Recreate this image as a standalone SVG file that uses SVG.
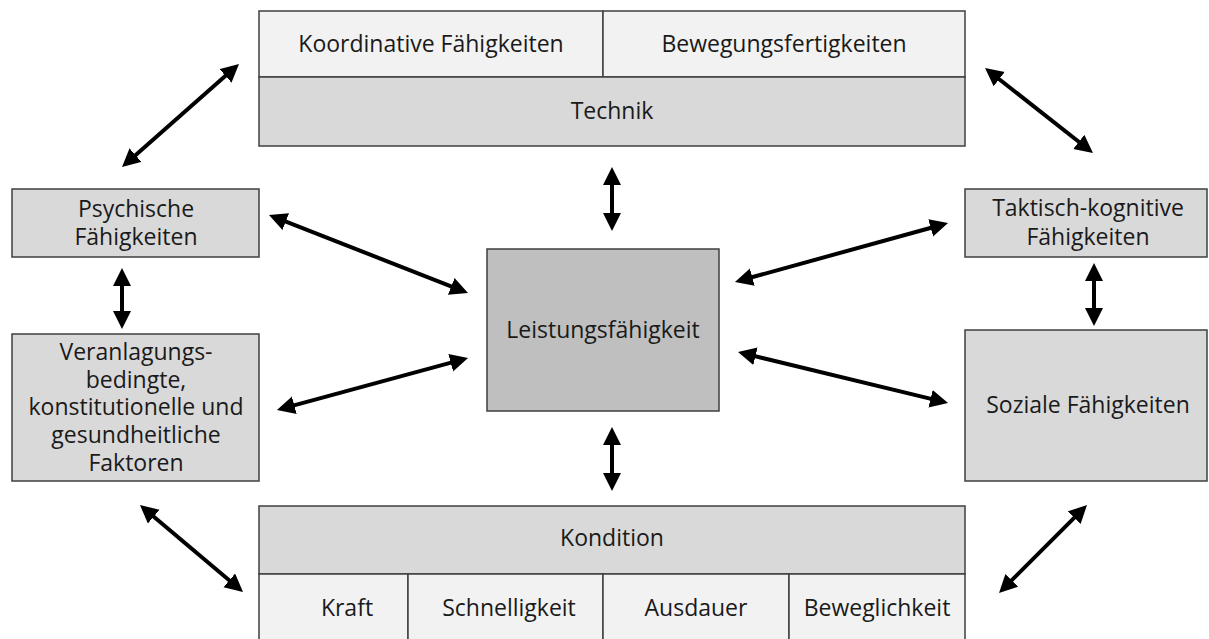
<svg xmlns="http://www.w3.org/2000/svg" width="1209" height="639" viewBox="0 0 1209 639">
  <style>
    .box { stroke: #3f3f3f; stroke-width: 1.5; }
    .light { fill: #f2f2f2; }
    .mid { fill: #d9d9d9; }
    .dark { fill: #bfbfbf; }
    text { font-family: "Open Sans", "Liberation Sans", sans-serif; font-size: 23px; fill: #1a1a1a; text-anchor: middle; }
    .arrow { stroke: #000; stroke-width: 4; fill: none; marker-start: url(#head); marker-end: url(#head); }
  </style>
  <defs>
    <marker id="head" markerUnits="userSpaceOnUse" markerWidth="20" markerHeight="20" refX="8" refY="9" orient="auto-start-reverse">
      <path d="M0,0 L18,9 L0,18 z" fill="#000"/>
    </marker>
  </defs>
  <rect width="1209" height="639" fill="#fff"/>

  <!-- Technik block with its two sub-fields -->
  <g id="technik">
    <rect class="box light" x="259" y="11" width="344" height="66"/>
    <rect class="box light" x="603" y="11" width="362" height="66"/>
    <rect class="box mid" x="259" y="77" width="706" height="69"/>
    <text x="431" y="52">Koordinative Fähigkeiten</text>
    <text x="784" y="52">Bewegungsfertigkeiten</text>
    <text x="612" y="119">Technik</text>
  </g>

  <g id="psychische">
    <rect class="box mid" x="12" y="189" width="247" height="68"/>
    <text x="136" y="217">Psychische</text>
    <text x="136" y="245">Fähigkeiten</text>
  </g>

  <g id="veranlagung">
    <rect class="box mid" x="12" y="334" width="247" height="147"/>
    <text x="136" y="360">Veranlagungs-</text>
    <text x="136" y="388">bedingte,</text>
    <text x="136" y="415">konstitutionelle und</text>
    <text x="136" y="443">gesundheitliche</text>
    <text x="136" y="471">Faktoren</text>
  </g>

  <g id="leistung">
    <rect class="box dark" x="487" y="249" width="232" height="162"/>
    <text x="603" y="338">Leistungsfähigkeit</text>
  </g>

  <g id="taktisch">
    <rect class="box mid" x="965" y="189" width="242" height="68"/>
    <text x="1088" y="216">Taktisch-kognitive</text>
    <text x="1088" y="245">Fähigkeiten</text>
  </g>

  <g id="sozial">
    <rect class="box mid" x="965" y="330" width="242" height="151"/>
    <text x="1088" y="413">Soziale Fähigkeiten</text>
  </g>

  <!-- Kondition block with its four sub-fields -->
  <g id="kondition">
    <rect class="box mid" x="259" y="506" width="706" height="68"/>
    <rect class="box light" x="259" y="574" width="149" height="70"/>
    <rect class="box light" x="408" y="574" width="195" height="70"/>
    <rect class="box light" x="603" y="574" width="186" height="70"/>
    <rect class="box light" x="789" y="574" width="176" height="70"/>
    <text x="612" y="546">Kondition</text>
    <text x="347" y="616">Kraft</text>
    <text x="509" y="616">Schnelligkeit</text>
    <text x="696" y="616">Ausdauer</text>
    <text x="877" y="616">Beweglichkeit</text>
  </g>

  <!-- double-headed connectors -->
  <g id="connectors">
    <path class="arrow" d="M129.5,160.4 L231.5,70.6"/>
    <path class="arrow" d="M992.9,74.2 L1085.1,146.8"/>
    <path class="arrow" d="M278.3,218.7 L458.7,289.3"/>
    <path class="arrow" d="M286.6,407.4 L458.4,360.6"/>
    <path class="arrow" d="M122,278 L122,319"/>
    <path class="arrow" d="M612,177 L612,221"/>
    <path class="arrow" d="M612,437 L612,481"/>
    <path class="arrow" d="M744.6,279.3 L938.4,225.7"/>
    <path class="arrow" d="M747.7,354.4 L938.3,400.6"/>
    <path class="arrow" d="M1094,273 L1094,316"/>
    <path class="arrow" d="M147.6,511.5 L235.4,585.5"/>
    <path class="arrow" d="M1079.9,512.1 L1006.1,585.9"/>
  </g>
</svg>
